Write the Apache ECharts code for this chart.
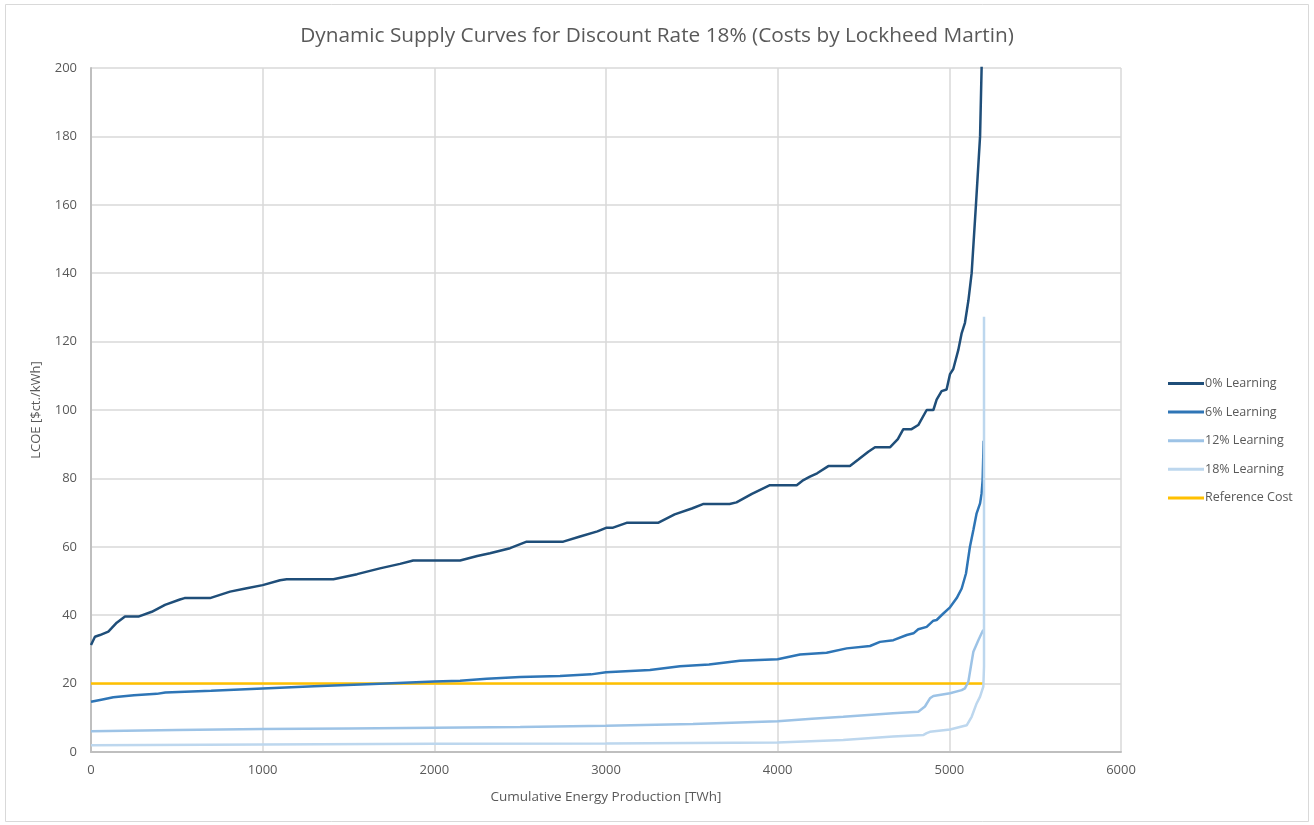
<!DOCTYPE html>
<html>
<head>
<meta charset="utf-8">
<script src="https://cdn.jsdelivr.net/npm/echarts@6/dist/echarts.min.js"></script>
<style>
html,body{margin:0;padding:0;background:#fff;}
#chart{width:1314px;height:825px;}
</style>
</head>
<body>
<div id="chart"></div>
<script>
// Data: [cumulative energy TWh, LCOE $ct/kWh]
const learning0 = [[0,31.3],[23,33.7],[52,34.2],[101,35.2],[120,36.2],[150,37.8],[198,39.6],[276,39.6],[354,41],[431,43],[518,44.6],[545,45],[693,45],[810,46.9],[900,47.8],[1000,48.8],[1101,50.2],[1140,50.5],[1412,50.5],[1550,52],[1683,53.7],[1800,55],[1877,56],[2150,56],[2250,57.3],[2324,58.1],[2441,59.6],[2538,61.5],[2751,61.5],[2849,63],[2950,64.5],[3004,65.6],[3041,65.6],[3120,67],[3303,67],[3400,69.5],[3500,71.2],[3565,72.5],[3720,72.5],[3760,73],[3850,75.5],[3955,78],[4111,78],[4150,79.5],[4188,80.5],[4230,81.5],[4295,83.6],[4421,83.6],[4470,85.5],[4528,87.8],[4567,89.1],[4654,89.1],[4700,91.5],[4732,94.4],[4780,94.4],[4819,95.6],[4868,100],[4907,100],[4926,103],[4955,105.5],[4984,106],[5004,110.5],[5023,112],[5052,117.5],[5072,122.5],[5091,125.5],[5111,132],[5130,140],[5155,160],[5179,180],[5188,200],[5194,215]];
const learning6 = [[0,14.7],[60,15.3],[130,16.0],[250,16.6],[383,17.0],[433,17.4],[700,17.9],[1000,18.6],[1300,19.2],[1645,19.9],[2000,20.6],[2150,20.8],[2305,21.4],[2500,21.9],[2732,22.2],[2913,22.7],[3000,23.3],[3256,24.0],[3431,25.1],[3600,25.6],[3780,26.7],[4000,27.1],[4130,28.5],[4285,29.0],[4402,30.3],[4538,31.0],[4596,32.2],[4674,32.7],[4752,34.2],[4791,34.7],[4819,35.9],[4868,36.6],[4907,38.4],[4926,38.6],[4965,40.5],[5004,42.3],[5043,45],[5072,47.8],[5097,52.2],[5120,60],[5140,64.9],[5159,69.8],[5179,72.7],[5188,75.6],[5194,79.5],[5200,91]];
const learning12 = [[0,6.1],[500,6.4],[1000,6.7],[1500,6.9],[2000,7.1],[2500,7.3],[3000,7.7],[3507,8.2],[4000,9.0],[4200,9.7],[4382,10.3],[4672,11.3],[4819,11.8],[4858,13.3],[4887,15.7],[4907,16.4],[5004,17.2],[5072,18.1],[5091,18.6],[5111,20.6],[5130,26.4],[5140,29.3],[5169,32.7],[5188,34.7],[5198,35.7]];
const learning18 = [[0,2.0],[1000,2.2],[2000,2.4],[3000,2.5],[4000,2.8],[4382,3.5],[4672,4.5],[4850,5.0],[4868,5.5],[4887,5.9],[5004,6.6],[5101,7.8],[5130,10.3],[5159,14.2],[5179,16.2],[5198,19.1],[5202,25],[5202,127.3]];
const referenceCost = [[0,20],[5202,20]];
const seriesNames = ['0% Learning','6% Learning','12% Learning','18% Learning','Reference Cost'];
const seriesColors = ['#1F4E79','#2E75B6','#9DC3E6','#BDD7EE','#FFC000'];
const seriesData = [learning0, learning6, learning12, learning18, referenceCost];

const chart = echarts.init(document.getElementById('chart'), null, {renderer:'canvas'});
const font = 'Open Sans, Liberation Sans, sans-serif';
chart.setOption({
  animation:false,
  backgroundColor:'#fff',
  graphic:[{type:'rect', shape:{x:5.5,y:4.5,width:1303,height:817}, style:{fill:'none',stroke:'#D9D9D9',lineWidth:1}, silent:true}],
  title:{text:'Dynamic Supply Curves for Discount Rate 18% (Costs by Lockheed Martin)', left:'center', top:21,
    textStyle:{fontFamily:font, fontSize:20.8, fontWeight:'normal', color:'#595959'}},
  grid:{left:91, right:193, top:68, bottom:73},
  legend:{orient:'vertical', left:1163, top:372, itemWidth:36, itemHeight:3, itemGap:15.6, icon:'rect',
    data:seriesNames, textStyle:{fontFamily:font, fontSize:12.5, color:'#595959', padding:[0,0,0,-4]}},
  xAxis:{type:'value', min:0, max:6000, interval:1000,
    name:'Cumulative Energy Production [TWh]', nameLocation:'middle', nameGap:38,
    nameTextStyle:{fontFamily:font, fontSize:13.5, color:'#595959'},
    axisLine:{show:true, lineStyle:{color:'#BFBFBF', width:2}},
    axisTick:{show:false},
    axisLabel:{fontFamily:font, fontSize:13, color:'#595959', margin:12, formatter:function(v){return String(v);}},
    splitLine:{show:true, lineStyle:{color:'#D9D9D9', width:1.5}}},
  yAxis:{type:'value', min:0, max:200, interval:20,
    name:'LCOE [$ct./kWh]', nameLocation:'middle', nameGap:48, nameRotate:90,
    nameTextStyle:{fontFamily:font, fontSize:13, color:'#595959'},
    axisLine:{show:true, lineStyle:{color:'#BFBFBF', width:2}},
    axisTick:{show:false},
    axisLabel:{fontFamily:font, fontSize:13, color:'#595959', margin:14},
    splitLine:{show:true, lineStyle:{color:'#D9D9D9', width:1.5}}},
  series: seriesData.map((d,i)=>({
    name:seriesNames[i], type:'line', data:d, symbol:'none', showSymbol:false, clip:true,
    lineStyle:{color:seriesColors[i], width:2.5}, itemStyle:{color:seriesColors[i]},
    z: i===4 ? 1 : 2+i
  }))
});
</script>
</body>
</html>
